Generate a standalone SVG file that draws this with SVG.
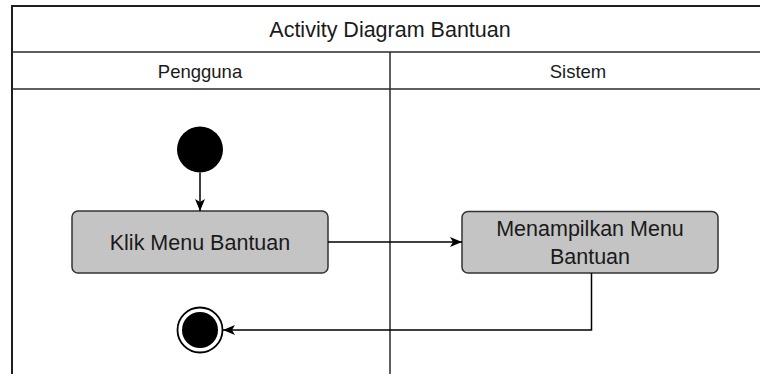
<svg xmlns="http://www.w3.org/2000/svg" width="760" height="374" viewBox="0 0 760 374">
<defs>
<marker id="arr" viewBox="0 0 12 10" refX="12" refY="5" markerWidth="12" markerHeight="10" markerUnits="userSpaceOnUse" orient="auto">
<path d="M0,0 L12,5 L0,10 L3,5 Z" fill="#000"/>
</marker>
<style>
.frame{fill:none;stroke:#1e1e1e;stroke-width:2}
.sep{fill:none;stroke:#2a2a2a;stroke-width:1.5}
.t{font-family:"Liberation Sans",Arial,sans-serif;fill:#1a1a1a;text-anchor:middle}
.act{fill:#c4c4c4;stroke:#333;stroke-width:1.5}
.edge{fill:none;stroke:#000;stroke-width:1.5}
</style>
</defs>
<rect width="760" height="374" fill="#fff"/>
<g id="pool">
<rect class="frame" x="12" y="6" width="760" height="380"/>
<line class="sep" x1="12" y1="52" x2="760" y2="52"/>
<line class="sep" x1="12" y1="89" x2="760" y2="89"/>
<line class="sep" x1="390" y1="52" x2="390" y2="374"/>
<text class="t" x="390" y="37" font-size="21.5">Activity Diagram Bantuan</text>
<text class="t" x="200" y="78" font-size="18.5">Pengguna</text>
<text class="t" x="578" y="78" font-size="18.5">Sistem</text>
</g>
<g id="start">
<circle cx="200" cy="149.5" r="23" fill="#000"/>
</g>
<g id="klik">
<rect class="act" x="72" y="211" width="256" height="62" rx="6"/>
<text class="t" x="200" y="249.5" font-size="21.5">Klik Menu Bantuan</text>
</g>
<g id="menampilkan">
<rect class="act" x="462" y="211.5" width="256" height="61.5" rx="6"/>
<text class="t" x="590" y="236" font-size="21.5">Menampilkan Menu</text>
<text class="t" x="590" y="264" font-size="21.5">Bantuan</text>
</g>
<g id="end">
<circle cx="200" cy="330" r="22.5" fill="#fff" stroke="#000" stroke-width="1.8"/>
<circle cx="200" cy="330" r="18" fill="#000"/>
</g>
<g id="connectors">
<line class="edge" x1="200" y1="172.5" x2="200" y2="211" marker-end="url(#arr)"/>
<line class="edge" x1="328" y1="242" x2="462" y2="242" marker-end="url(#arr)"/>
<polyline class="edge" points="591.5,273 591.5,330 223,330" marker-end="url(#arr)"/>
</g>
</svg>
